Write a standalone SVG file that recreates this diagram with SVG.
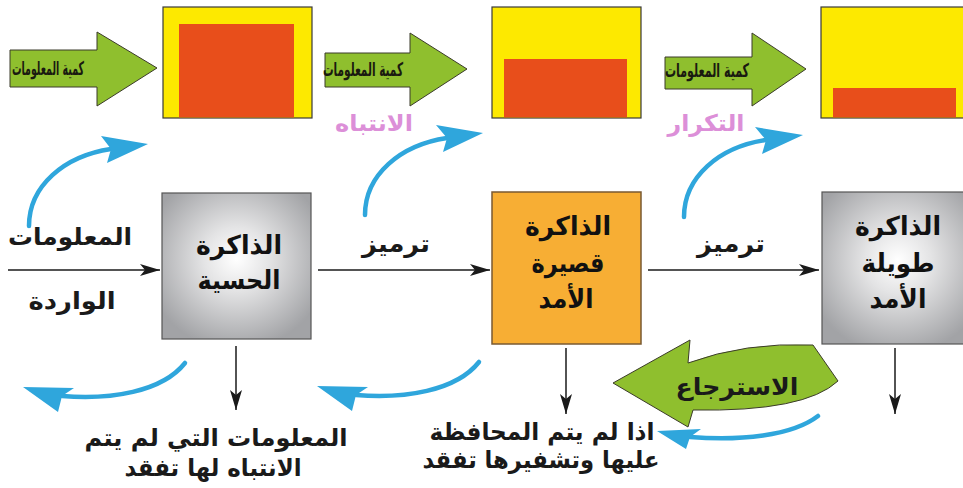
<svg xmlns="http://www.w3.org/2000/svg" width="963" height="488" viewBox="0 0 963 488">
  <defs>
    <radialGradient id="grayGlow" cx="50%" cy="45%" r="62%">
      <stop offset="0" stop-color="#ffffff"/>
      <stop offset="0.35" stop-color="#e4e4e5"/>
      <stop offset="1" stop-color="#a2a3a6"/>
    </radialGradient>
    <marker id="blackHead" viewBox="0 0 20 12" refX="20" refY="6" markerWidth="20" markerHeight="12" markerUnits="userSpaceOnUse" orient="auto">
      <path d="M0,0 L20,6 L0,12 L5,6 Z" fill="#1a1a1a"/>
    </marker>
    <style>
      .amount { fill: #8fbf2e; stroke: #3b3b2a; stroke-width: 1; }
      .cap { fill: #fde900; stroke: #3a3a3a; stroke-width: 1.2; }
      .fill { fill: #e84e1b; }
      .grayBox { fill: url(#grayGlow); stroke: #555; stroke-width: 1.2; }
      .stmBox { fill: #f7ae34; stroke: #7a5a32; stroke-width: 1.5; }
      .flow { stroke: #1a1a1a; stroke-width: 1.5; fill: none; marker-end: url(#blackHead); }
      .curve { stroke: #2fa6dc; stroke-width: 4.5; fill: none; stroke-linecap: round; }
      .curveHead { fill: #2fa6dc; }
      .retrieve { fill: #8fbf2e; stroke: #3b3b2a; stroke-width: 1; }
      text { font-family: "DejaVu Sans", "Noto Sans", sans-serif; font-weight: bold; text-anchor: middle; }
      .boxText { font-size: 26px; fill: #111; }
      .label { font-size: 24px; fill: #1a1a1a; }
      .arrowText { font-size: 19px; fill: #1a1a10; }
      .pink { font-size: 23px; fill: #dc8fd8; }
    </style>
  </defs>

  <!-- information amount arrows and capacity boxes -->
  <g id="amount-1">
    <path class="amount" d="M10,50 H97 V32 L157,68 L97,106 V87 H10 Z"/>
    <text class="arrowText" x="48" y="75" textLength="72" lengthAdjust="spacingAndGlyphs">كمية المعلومات</text>
  </g>
  <g id="capacity-1">
    <rect class="cap" x="163" y="7" width="149" height="111"/>
    <rect class="fill" x="179" y="24" width="115" height="93.4"/>
  </g>

  <g id="amount-2">
    <path class="amount" d="M325,53 H410 V33 L467,69 L410,106 V87 H325 Z"/>
    <text class="arrowText" x="363" y="76" textLength="80" lengthAdjust="spacingAndGlyphs">كمية المعلومات</text>
  </g>
  <g id="capacity-2">
    <rect class="cap" x="492" y="7" width="149" height="111"/>
    <rect class="fill" x="504" y="59" width="123" height="58.4"/>
  </g>

  <g id="amount-3">
    <path class="amount" d="M665,57 H752 V33 L806,69 L752,106 V89 H665 Z"/>
    <text class="arrowText" x="707" y="77" textLength="84" lengthAdjust="spacingAndGlyphs">كمية المعلومات</text>
  </g>
  <g id="capacity-3">
    <rect class="cap" x="821" y="7" width="150" height="111"/>
    <rect class="fill" x="833" y="88" width="123" height="29.4"/>
  </g>

  <!-- memory stages -->
  <g id="sensory-memory">
    <rect class="grayBox" x="162" y="193" width="149" height="146"/>
    <text class="boxText" x="239" y="254" textLength="86" lengthAdjust="spacingAndGlyphs">الذاكرة</text>
    <text class="boxText" x="239" y="289" textLength="83" lengthAdjust="spacingAndGlyphs">الحسية</text>
  </g>
  <g id="short-term-memory">
    <rect class="stmBox" x="492" y="192" width="149" height="152"/>
    <text class="boxText" x="568" y="235" textLength="86" lengthAdjust="spacingAndGlyphs">الذاكرة</text>
    <text class="boxText" x="568" y="272" textLength="73" lengthAdjust="spacingAndGlyphs">قصيرة</text>
    <text class="boxText" x="566" y="308" textLength="55" lengthAdjust="spacingAndGlyphs">الأمد</text>
  </g>
  <g id="long-term-memory">
    <rect class="grayBox" x="822" y="192" width="152" height="152"/>
    <text class="boxText" x="898" y="235" textLength="86" lengthAdjust="spacingAndGlyphs">الذاكرة</text>
    <text class="boxText" x="898" y="272" textLength="73" lengthAdjust="spacingAndGlyphs">طويلة</text>
    <text class="boxText" x="898" y="308" textLength="57" lengthAdjust="spacingAndGlyphs">الأمد</text>
  </g>

  <!-- retrieval arrow -->
  <g id="retrieval">
    <path class="retrieve" d="M613,383 L690,340 L688,363 Q745,342 813,345 L838,381 Q805,412 693,410 L688,427 Z"/>
    <text class="label" x="737" y="395" textLength="123" lengthAdjust="spacingAndGlyphs">الاسترجاع</text>
  </g>

  <!-- connectors -->
  <g id="connectors">
    <line class="flow" x1="8" y1="270" x2="160" y2="270"/>
    <line class="flow" x1="318" y1="270" x2="490" y2="270"/>
    <line class="flow" x1="648" y1="270" x2="819" y2="270"/>

    <line class="flow" x1="236" y1="346" x2="236" y2="410"/>
    <line class="flow" x1="566" y1="348" x2="566" y2="414"/>
    <line class="flow" x1="895" y1="348" x2="895" y2="414"/>

    <!-- attention / rehearsal curves -->
    <path class="curve" d="M29,226 C29,186 64,156 111,149"/>
    <path class="curveHead" d="M148,144 L101,136 L111,149 L107,163 Z"/>
    <path class="curve" d="M365,215 C365,175 400,145 447,138"/>
    <path class="curveHead" d="M483,133 L436,125 L447,138 L443,152 Z"/>
    <path class="curve" d="M684,217 C684,177 719,147 766,140"/>
    <path class="curveHead" d="M803,135 L755,127 L766,140 L762,154 Z"/>

    <!-- loss curves -->
    <path class="curve" d="M185,363 C162,392 110,400 62,396"/>
    <path class="curveHead" d="M23,387 L74,388 L62,396 L58,412 Z"/>
    <path class="curve" d="M479,362 C456,391 404,399 356,395"/>
    <path class="curveHead" d="M317,386 L368,387 L356,395 L352,411 Z"/>
    <path class="curve" d="M818,416 C792,436 740,441 690,437"/>
    <path class="curveHead" d="M657,431 L701,429 L690,437 L686,449 Z"/>
  </g>

  <!-- labels -->
  <g id="labels">
    <text class="label" x="70" y="245" textLength="124" lengthAdjust="spacingAndGlyphs">المعلومات</text>
    <text class="label" x="72" y="309" textLength="87" lengthAdjust="spacingAndGlyphs">الواردة</text>
    <text class="label" x="396" y="252" textLength="68" lengthAdjust="spacingAndGlyphs">ترميز</text>
    <text class="label" x="731" y="252" textLength="68" lengthAdjust="spacingAndGlyphs">ترميز</text>
    <text class="pink" x="374" y="131" textLength="78" lengthAdjust="spacingAndGlyphs">الانتباه</text>
    <text class="pink" x="706" y="131" textLength="77" lengthAdjust="spacingAndGlyphs">التكرار</text>
    <text class="label" x="216" y="446" textLength="263" lengthAdjust="spacingAndGlyphs">المعلومات التي لم يتم</text>
    <text class="label" x="213" y="476" textLength="177" lengthAdjust="spacingAndGlyphs">الانتباه لها تفقد</text>
    <text class="label" x="542" y="440" textLength="225" lengthAdjust="spacingAndGlyphs">اذا لم يتم المحافظة</text>
    <text class="label" x="541" y="468" textLength="237" lengthAdjust="spacingAndGlyphs">عليها وتشفيرها تفقد</text>
  </g>
</svg>
